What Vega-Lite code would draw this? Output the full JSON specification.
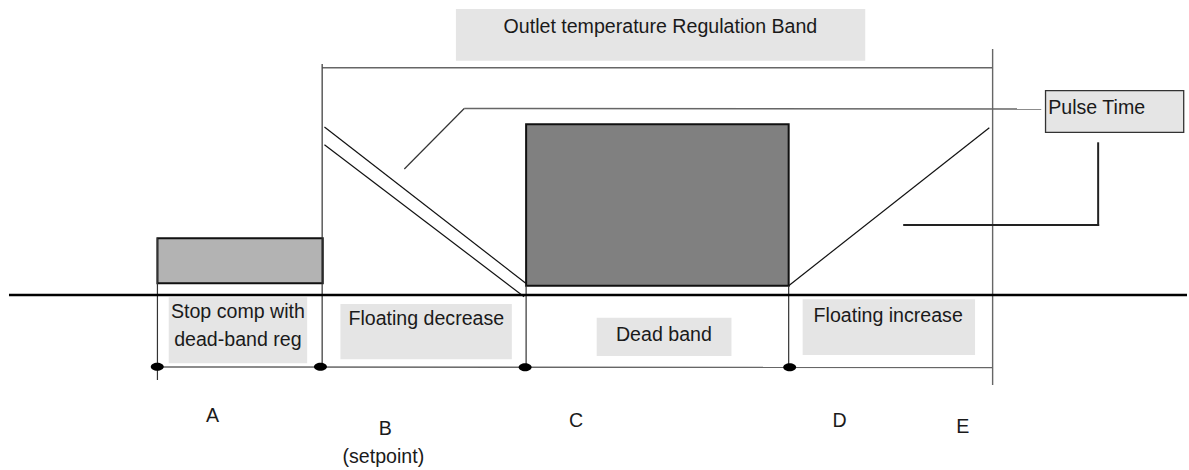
{
  "$schema": "https://vega.github.io/schema/vega-lite/v6.json",
  "width": 1189,
  "height": 470,
  "padding": 0,
  "autosize": {"type": "fit", "contains": "padding"},
  "background": "white",
  "config": {"view": {"stroke": null}},
  "datasets": {
    "labelBoxes": [
      {"name": "title", "x": 456.7, "x2": 866.7, "y": 9, "y2": 60.7},
      {"name": "stop", "x": 169, "x2": 307.7, "y": 297.3, "y2": 363.3},
      {"name": "fdec", "x": 341, "x2": 512.7, "y": 304, "y2": 359.3},
      {"name": "dead", "x": 597.7, "x2": 732.7, "y": 317.7, "y2": 356},
      {"name": "finc", "x": 804, "x2": 976.7, "y": 299.3, "y2": 355}
    ],
    "pulseBox": [{"name": "pulse", "x": 1047.3, "x2": 1185.7, "y": 90.7, "y2": 132.3}],
    "lightBar": [{"name": "A-B", "x": 157.7, "x2": 323.3, "y": 238.3, "y2": 283.3}],
    "darkBar": [{"name": "C-D", "x": 527, "x2": 790, "y": 124.3, "y2": 285.7}],
    "grayLines": [
      {"name": "band top", "x": 323, "x2": 994.3, "y": 67.7, "y2": 67.7},
      {"name": "E", "x": 994.3, "x2": 994.3, "y": 49, "y2": 385},
      {"name": "lower", "x": 157.7, "x2": 994, "y": 367, "y2": 367.5},
      {"name": "pulse leader h", "x": 465, "x2": 1043, "y": 108.5, "y2": 109}
    ],
    "darkLines": [
      {"name": "A", "x": 157.7, "x2": 157.7, "y": 238.3, "y2": 380},
      {"name": "B", "x": 322.7, "x2": 322.7, "y": 64, "y2": 367},
      {"name": "C", "x": 527, "x2": 527, "y": 285.7, "y2": 367},
      {"name": "D", "x": 790, "x2": 790, "y": 285.7, "y2": 367},
      {"name": "pulse leader d", "x": 405, "x2": 465, "y": 169, "y2": 108.5}
    ],
    "diagonals": [
      {"name": "dec upper", "x": 325, "x2": 527, "y": 127, "y2": 283.5},
      {"name": "dec lower", "x": 325, "x2": 525, "y": 144.7, "y2": 296.7},
      {"name": "inc", "x": 790, "x2": 991, "y": 285.7, "y2": 127.7}
    ],
    "baseline": [{"name": "axis", "x": 9, "x2": 1189, "y": 295, "y2": 295}],
    "bracket": [
      {"name": "v", "x": 1100, "x2": 1100, "y": 143.3, "y2": 225},
      {"name": "h", "x": 905.7, "x2": 1100, "y": 225, "y2": 225}
    ],
    "dots": [
      {"name": "A", "x": 157.5, "y": 366.8},
      {"name": "B", "x": 321, "y": 366.8},
      {"name": "C", "x": 526, "y": 367.3},
      {"name": "D", "x": 791, "y": 367.3}
    ],
    "labels": [
      {"text": "Outlet temperature Regulation Band", "x": 661.5, "y": 32.7},
      {"text": "Pulse Time", "x": 1098.5, "y": 114},
      {"text": "Stop comp with", "x": 238.3, "y": 318},
      {"text": "dead-band reg", "x": 238.3, "y": 346},
      {"text": "Floating decrease", "x": 427, "y": 325},
      {"text": "Dead band", "x": 665, "y": 341},
      {"text": "Floating increase", "x": 889.7, "y": 321.7},
      {"text": "A", "x": 213, "y": 421.7},
      {"text": "B", "x": 386, "y": 435},
      {"text": "(setpoint)", "x": 384, "y": 462.7},
      {"text": "C", "x": 577, "y": 426.7},
      {"text": "D", "x": 841, "y": 426.7},
      {"text": "E", "x": 964.5, "y": 433.3}
    ]
  },
  "encoding": {
    "x": {"field": "x", "type": "quantitative", "scale": {"domain": [0, 1189], "nice": false, "zero": false}, "axis": null},
    "y": {"field": "y", "type": "quantitative", "scale": {"domain": [0, 470], "nice": false, "zero": false, "reverse": true}, "axis": null}
  },
  "layer": [
    {
      "data": {"name": "labelBoxes"},
      "mark": {"type": "rect", "fill": "#e5e5e5", "strokeWidth": 0},
      "encoding": {"x2": {"field": "x2"}, "y2": {"field": "y2"}}
    },
    {
      "data": {"name": "pulseBox"},
      "mark": {"type": "rect", "fill": "#e5e5e5", "stroke": "#333333", "strokeWidth": 1.3},
      "encoding": {"x2": {"field": "x2"}, "y2": {"field": "y2"}}
    },
    {
      "data": {"name": "lightBar"},
      "mark": {"type": "rect", "fill": "#b3b3b3", "stroke": "#111111", "strokeWidth": 2},
      "encoding": {"x2": {"field": "x2"}, "y2": {"field": "y2"}}
    },
    {
      "data": {"name": "darkBar"},
      "mark": {"type": "rect", "fill": "#808080", "stroke": "#111111", "strokeWidth": 2},
      "encoding": {"x2": {"field": "x2"}, "y2": {"field": "y2"}}
    },
    {
      "data": {"name": "grayLines"},
      "mark": {"type": "rule", "stroke": "#666666", "strokeWidth": 1.4},
      "encoding": {"x2": {"field": "x2"}, "y2": {"field": "y2"}}
    },
    {
      "data": {"name": "darkLines"},
      "mark": {"type": "rule", "stroke": "#333333", "strokeWidth": 1.2},
      "encoding": {"x2": {"field": "x2"}, "y2": {"field": "y2"}}
    },
    {
      "data": {"name": "diagonals"},
      "mark": {"type": "rule", "stroke": "#111111", "strokeWidth": 1.2},
      "encoding": {"x2": {"field": "x2"}, "y2": {"field": "y2"}}
    },
    {
      "data": {"name": "baseline"},
      "mark": {"type": "rule", "stroke": "#000000", "strokeWidth": 2.5},
      "encoding": {"x2": {"field": "x2"}, "y2": {"field": "y2"}}
    },
    {
      "data": {"name": "bracket"},
      "mark": {"type": "rule", "stroke": "#222222", "strokeWidth": 2, "strokeCap": "square"},
      "encoding": {"x2": {"field": "x2"}, "y2": {"field": "y2"}}
    },
    {
      "data": {"name": "dots"},
      "mark": {"type": "point", "shape": "M -1 0 A 1 0.62 0 1 0 1 0 A 1 0.62 0 1 0 -1 0 Z", "size": 169, "filled": true, "fill": "#000000", "opacity": 1, "strokeWidth": 0}
    },
    {
      "data": {"name": "labels"},
      "mark": {"type": "text", "font": "Liberation Sans", "fontSize": 19.6, "fill": "#1a1a1a", "align": "center", "baseline": "alphabetic"},
      "encoding": {"text": {"field": "text"}}
    }
  ]
}
